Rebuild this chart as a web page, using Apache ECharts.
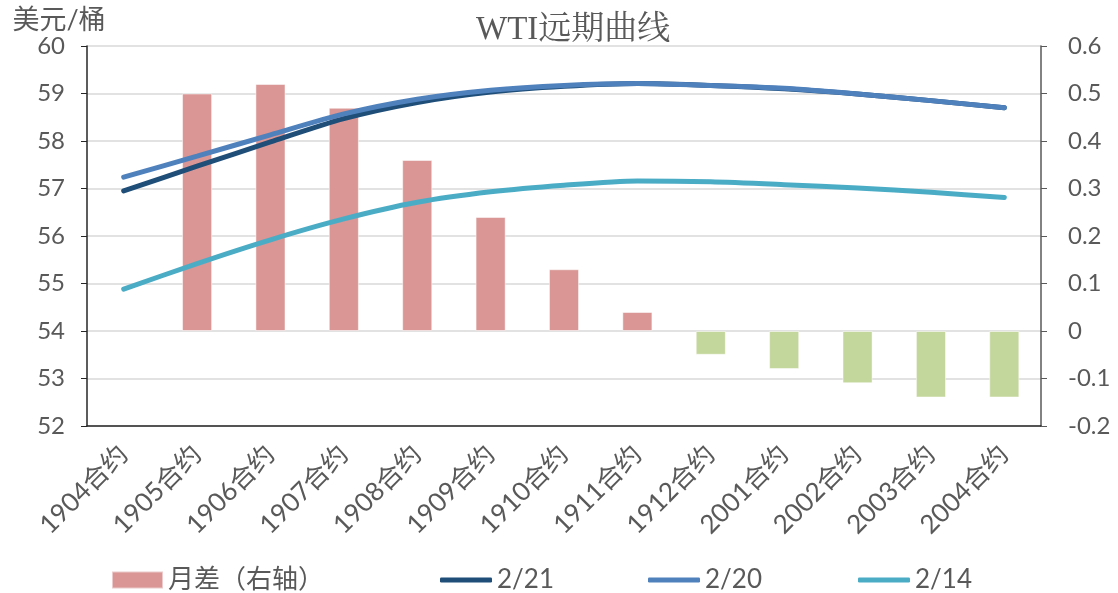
<!DOCTYPE html>
<html lang="zh-CN">
<head>
    <meta charset="UTF-8">
    <title>WTI远期曲线</title>
    <style>
        html, body { margin: 0; padding: 0; background: #fff; }
        #main { width: 1118px; height: 593px; }
    </style>
    <script src="https://cdn.jsdelivr.net/npm/echarts@6/dist/echarts.min.js"></script>
</head>
<body>
<div id="main"></div>
<script type="text/javascript">
    // 合约月份
    var contracts = ['1904合约', '1905合约', '1906合约', '1907合约', '1908合约', '1909合约', '1910合约',
        '1911合约', '1912合约', '2001合约', '2002合约', '2003合约', '2004合约'];
    // 月差（右轴）
    var spread = [null, 0.50, 0.52, 0.47, 0.36, 0.24, 0.13, 0.04, -0.05, -0.08, -0.11, -0.14, -0.14];
    // 各日期曲线（美元/桶）
    var d0221 = [56.95, 57.47, 57.98, 58.47, 58.81, 59.03, 59.15, 59.21, 59.17, 59.10, 58.99, 58.85, 58.70];
    var d0220 = [57.24, 57.68, 58.13, 58.57, 58.88, 59.07, 59.17, 59.21, 59.17, 59.11, 58.99, 58.85, 58.70];
    var d0214 = [54.88, 55.42, 55.92, 56.36, 56.71, 56.93, 57.07, 57.16, 57.14, 57.08, 57.01, 56.92, 56.81];

    var font = 'Lato, "Noto Sans CJK SC", sans-serif';
    var grey = '#595959';

    var barData = spread.map(function (v) {
        if (v === null) return null;
        return { value: v, itemStyle: { color: v < 0 ? '#C3D69B' : '#D99694' } };
    });

    function lineSeries(name, data, color) {
        return {
            name: name,
            type: 'line',
            yAxisIndex: 0,
            data: data,
            symbol: 'none',
            smooth: 0.25,
            lineStyle: { width: 5, color: color, cap: 'round' },
            itemStyle: { color: color },
            z: 3
        };
    }

    // 图例逐项定位
    function legendItem(name, left, isLine) {
        return {
            left: left,
            bottom: 0,
            padding: 0,
            data: [{ name: name, icon: isLine ? 'roundRect' : 'rect' }],
            itemWidth: isLine ? 52 : 51,
            itemHeight: isLine ? 5 : 17,
            itemGap: 6,
            textStyle: { fontFamily: font, fontSize: 26, color: grey }
        };
    }

    var myChart = echarts.init(document.getElementById('main'));
    var option = {
        animation: false,
        title: {
            text: 'WTI远期曲线',
            left: 471,
            top: 9,
            textStyle: {
                fontFamily: '"Liberation Serif", "Noto Serif CJK SC", "Noto Sans CJK SC", serif',
                fontSize: 33,
                fontWeight: 'normal',
                color: grey
            }
        },
        grid: { left: 87, right: 77, top: 46, bottom: 167 },
        legend: [
            legendItem('月差（右轴）', 111, false),
            legendItem('2/21', 440, true),
            legendItem('2/20', 648, true),
            legendItem('2/14', 858, true)
        ],
        xAxis: {
            type: 'category',
            data: contracts,
            axisLine: { onZero: false, lineStyle: { color: '#262626', width: 1.5 } },
            axisTick: { alignWithLabel: true, length: 6, lineStyle: { color: '#262626' } },
            axisLabel: {
                interval: 0,
                rotate: 45,
                margin: 24,
                padding: [14, 0, 0, 0],
                fontFamily: font,
                fontSize: 26,
                color: grey
            }
        },
        yAxis: [{
            type: 'value',
            min: 52,
            max: 60,
            interval: 1,
            name: '美元/桶',
            nameLocation: 'end',
            nameGap: 10,
            nameTextStyle: {
                fontFamily: font,
                fontSize: 27,
                color: grey,
                align: 'center',
                padding: [0, 56, 0, 0]
            },
            axisLine: { show: true, lineStyle: { color: '#262626', width: 1.5 } },
            axisTick: { show: true, length: 6, lineStyle: { color: '#262626' } },
            axisLabel: { fontFamily: font, fontSize: 24, color: grey, margin: 22 },
            splitLine: { lineStyle: { color: '#d9d9d9', width: 1.5 } }
        }, {
            type: 'value',
            min: -0.2,
            max: 0.6,
            interval: 0.1,
            axisLine: { show: true, lineStyle: { color: '#595959', width: 1.5 } },
            axisTick: { show: true, length: 6, lineStyle: { color: '#595959' } },
            axisLabel: {
                fontFamily: font, fontSize: 24, color: grey, margin: 27,
                formatter: function (v) { return String(Math.round(v * 10) / 10); }
            },
            splitLine: { show: false }
        }],
        series: [
            {
                name: '月差（右轴）',
                type: 'bar',
                yAxisIndex: 1,
                data: barData,
                barWidth: '41%',
                itemStyle: { color: '#D99694', borderColor: 'rgba(255,255,255,0.5)', borderWidth: 1 },
                z: 2
            },
            lineSeries('2/21', d0221, '#1F4E79'),
            lineSeries('2/20', d0220, '#4F81BD'),
            lineSeries('2/14', d0214, '#4BACC6')
        ]
    };
    myChart.setOption(option);
</script>
</body>
</html>
